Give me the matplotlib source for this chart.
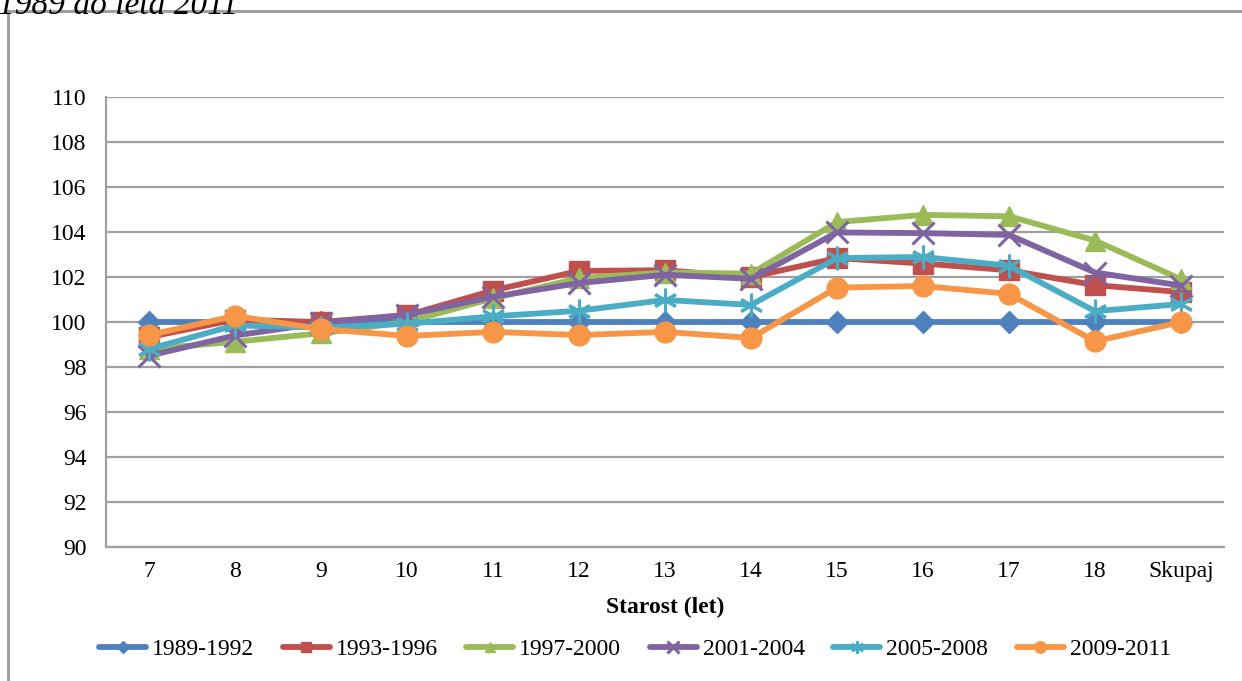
import matplotlib
matplotlib.use("Agg")
import matplotlib.pyplot as plt
from matplotlib.patches import Rectangle

# Categories (age in years + total)
categories = ["7", "8", "9", "10", "11", "12", "13", "14", "15", "16", "17", "18", "Skupaj"]

s_1989_1992 = [100.0, 100.0, 100.0, 100.0, 100.0, 100.0, 100.0, 100.0, 100.0, 100.0, 100.0, 100.0, 100.0]
s_1993_1996 = [99.33, 100.1, 100.0, 100.3, 101.4, 102.27, 102.3, 102.0, 102.84, 102.6, 102.3, 101.64, 101.33]
s_1997_2000 = [98.8, 99.12, 99.5, 100.0, 101.05, 101.95, 102.2, 102.15, 104.44, 104.76, 104.7, 103.62, 101.9]
s_2001_2004 = [98.5, 99.4, 99.95, 100.32, 101.12, 101.73, 102.1, 101.92, 103.98, 103.95, 103.87, 102.2, 101.62]
s_2005_2008 = [98.8, 99.85, 99.75, 99.92, 100.25, 100.5, 100.98, 100.76, 102.84, 102.89, 102.5, 100.48, 100.8]
s_2009_2011 = [99.42, 100.27, 99.69, 99.38, 99.56, 99.42, 99.56, 99.29, 101.53, 101.6, 101.25, 99.14, 100.0]

series_labels = ["1989-1992", "1993-1996", "1997-2000", "2001-2004", "2005-2008", "2009-2011"]
series_values = [s_1989_1992, s_1993_1996, s_1997_2000, s_2001_2004, s_2005_2008, s_2009_2011]
series_colors = ["#4F81BD", "#C0504D", "#9BBB59", "#8064A2", "#4BACC6", "#F79646"]
series_markers = ["D", "s", "^", "x", (6, 2, 0), "o"]
marker_sizes = [11, 14, 14, 16, 17, 15]

y_ticks = list(range(90, 111, 2))

serif = ["Liberation Serif", "DejaVu Serif"]
plt.rcParams["font.family"] = serif
FS = 17

W, H = 1242, 681
fig = plt.figure(figsize=(W / 100, H / 100), dpi=100)

# outer chart frame
fig.patches.append(Rectangle((8 / W, -0.05), 1.2, 1 - 11 / H + 0.05,
                             transform=fig.transFigure, fill=False,
                             edgecolor="#A0A0A0", linewidth=2.2, zorder=0))

# heading above the frame, running off the top edge
fig.text(-2 / W, 1 - (-10) / H, "1989 do leta 2011", fontsize=24, style="italic",
         va="top", ha="left", family=serif)

ax = fig.add_axes([106 / W, 1 - 547 / H, (1224 - 106) / W, (547 - 97) / H])

x = list(range(len(categories)))
handles = []
for vals, lab, col, mk, ms in zip(series_values, series_labels, series_colors,
                                  series_markers, marker_sizes):
    mew = 2.2 if mk == "x" or isinstance(mk, tuple) else 1.0
    h, = ax.plot(x, vals, color=col, linewidth=4.2, marker=mk, markersize=ms,
                 markeredgecolor=col, markerfacecolor=col, markeredgewidth=mew,
                 label=lab, solid_capstyle="round", clip_on=False, zorder=3)
    handles.append(h)

ax.set_xlim(-0.5, len(categories) - 0.5)
ax.set_ylim(90, 110)
ax.set_yticks(y_ticks)
ax.set_yticklabels([str(t) for t in y_ticks])
ax.set_xticks(x)
ax.set_xticklabels(categories)
ax.tick_params(axis="both", length=0, labelsize=FS, colors="black")
ax.tick_params(axis="y", pad=14)
ax.tick_params(axis="x", pad=10)

ax.grid(axis="y", color="#A0A0A0", linewidth=1.6, zorder=0)
ax.set_axisbelow(True)
for side in ("top", "right"):
    ax.spines[side].set_visible(False)
for side in ("left", "bottom"):
    ax.spines[side].set_color("#A0A0A0")
    ax.spines[side].set_linewidth(1.6)

ax.set_xlabel("Starost (let)", fontsize=FS, fontweight="bold", labelpad=11)

fig.legend(handles=handles, loc="center", bbox_to_anchor=(635 / W, 1 - 649 / H),
           ncol=6, frameon=False, fontsize=FS, handlelength=2.0,
           handletextpad=0.25, columnspacing=1.2, markerscale=0.55)

fig.savefig("out.png", dpi=100)
